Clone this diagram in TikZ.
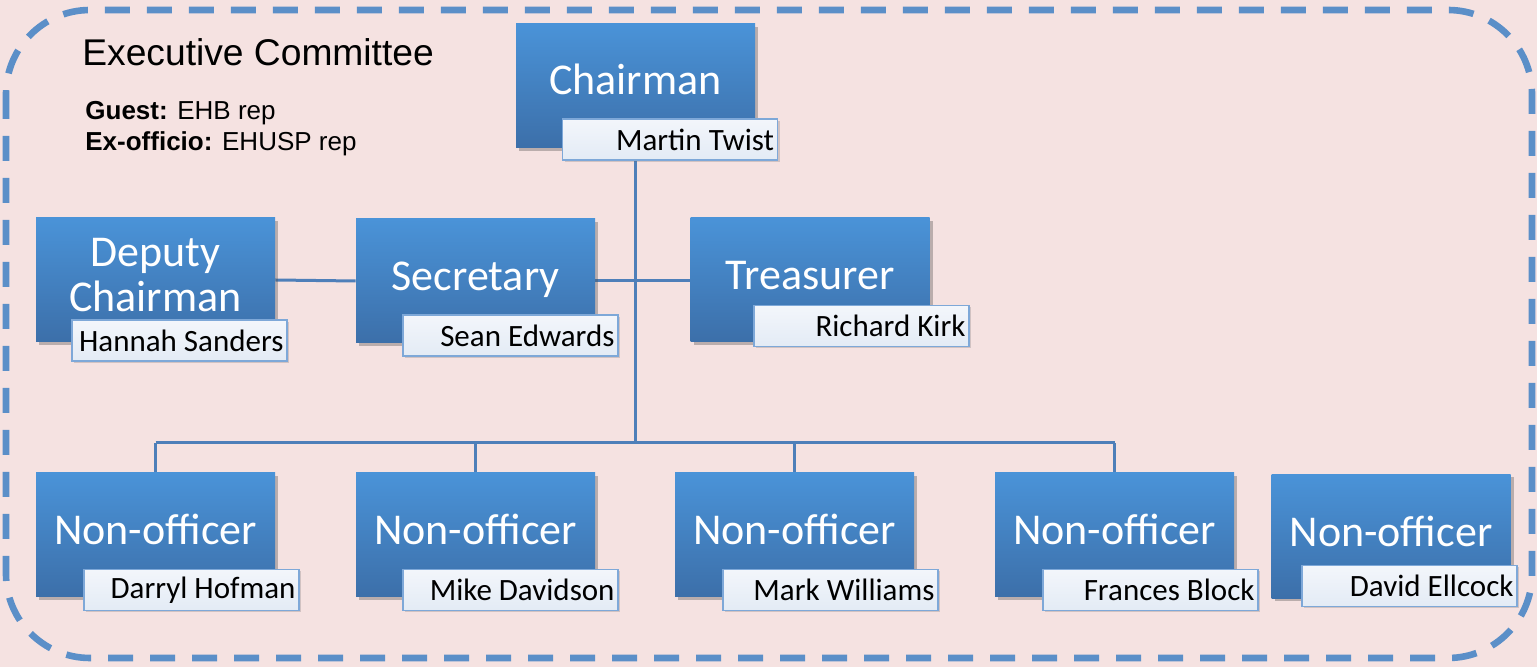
\documentclass[tikz,border=0pt]{standalone}
\usepackage{fontspec}
\setmainfont{Liberation Sans}
\newfontfamily\carlito{Carlito}
\usetikzlibrary{shadows,backgrounds}
\definecolor{pinkbg}{HTML}{F5E2E1}
\definecolor{dashblue}{HTML}{5B8FC8}
\definecolor{boxtop}{HTML}{4A93D8}
\definecolor{boxbot}{HTML}{3C6FA9}
\definecolor{lblborder}{HTML}{7EA8D8}
\definecolor{lbltop}{HTML}{F3F6FB}
\definecolor{lblbot}{HTML}{E3EBF5}
\definecolor{linkblue}{HTML}{4E7FB9}
\newcommand{\nmtext}[1]{\makebox[104pt][r]{#1}}
\tikzset{
  rolebox/.style={rectangle, minimum width=119.5pt, minimum height=62pt, inner sep=0pt,
    top color=boxtop, bottom color=boxbot, draw=none,
    drop shadow={shadow xshift=1.5pt, shadow yshift=-1.5pt, opacity=0.35, fill=black!70}},
  roletitle/.style={anchor=base, text=white, font=\carlito\fontsize{22}{22.5}\selectfont, align=center, inner sep=0pt},
  namebox/.style={rectangle, minimum width=107.5pt, minimum height=20.5pt, inner xsep=0pt, inner ysep=0pt,
    top color=lbltop, bottom color=lblbot,
    draw=lblborder, line width=0.8pt, text=black, font=\carlito\fontsize{15.5}{16}\selectfont,
    drop shadow={shadow xshift=1pt, shadow yshift=-1pt, opacity=0.25, fill=black!60}},
  link/.style={draw=linkblue, line width=1.5pt},
}
\begin{document}
\begin{tikzpicture}[x=0.5pt,y=-0.5pt]
\useasboundingbox (0,0) rectangle (1537,667);
% boxes
\node[rolebox] (chair) at (635.5,86) {};
\node[roletitle] (chairT) at ([yshift=-4.5pt]chair.center) {Chairman};
\node[namebox] (chairN) at (670,139.5) {\nmtext{Martin Twist}};

\node[rolebox] (dep) at (155.5,280) {};
\node[roletitle] (depT) at ([yshift=-16pt]dep.center) {Deputy\\Chairman};
\node[namebox] (depN) at (179.5,340.5) {\nmtext{Hannah Sanders}};

\node[rolebox] (sec) at (475.5,281) {};
\node[roletitle] (secT) at ([yshift=-5pt]sec.center) {Secretary};
\node[namebox] (secN) at (510.5,335.5) {\nmtext{Sean Edwards}};

\node[rolebox] (tre) at (810,280) {};
\node[roletitle] (treT) at ([yshift=-5pt]tre.center) {Treasurer};
\node[namebox] (treN) at (861.5,326) {\nmtext{Richard Kirk}};

\node[rolebox] (n1) at (155.5,535) {};
\node[roletitle] (n1T) at ([yshift=-5pt]n1.center) {Non-officer};
\node[namebox] (n1N) at (191.5,590) {\nmtext{Darryl Hofman}};

\node[rolebox] (n2) at (475.5,535) {};
\node[roletitle] (n2T) at ([yshift=-5pt]n2.center) {Non-officer};
\node[namebox] (n2N) at (510.5,590) {\nmtext{Mike Davidson}};

\node[rolebox] (n3) at (794.5,535) {};
\node[roletitle] (n3T) at ([yshift=-5pt]n3.center) {Non-officer};
\node[namebox] (n3N) at (830.5,590) {\nmtext{Mark Williams}};

\node[rolebox] (n4) at (1114.5,535) {};
\node[roletitle] (n4T) at ([yshift=-5pt]n4.center) {Non-officer};
\node[namebox] (n4N) at (1150.5,590) {\nmtext{Frances Block}};

\node[rolebox] (n5) at (1391,536.5) {};
\node[roletitle] (n5T) at ([yshift=-5pt]n5.center) {Non-officer};
\node[namebox] (n5N) at (1409.5,586) {\nmtext{David Ellcock}};

% header texts
\node[anchor=base west, inner sep=0pt, font=\fontsize{18.6}{20}\selectfont] (title) at (82,66) {Executive Committee};
\node[anchor=base west, inner sep=0pt, font=\fontsize{13}{15.5}\selectfont] (guest) at (85,120)
  {\textbf{Guest:} EHB rep};
\node[anchor=base west, inner sep=0pt, font=\fontsize{13}{15.5}\selectfont] (exoff) at (85,151)
  {\textbf{Ex-officio:} EHUSP rep};

\coordinate (bus) at (635.5,443);
\begin{scope}[on background layer]
  \fill[pinkbg] (0,0) rectangle (1537,667);
  \draw[dashblue, line width=3.3pt, dash pattern=on 12.5pt off 8.5pt, rounded corners=42pt]
    (6,10) rectangle (1532,658);
  \draw[link] (chair.south) -- (bus);
  \draw[link] (dep.east) -- (sec.west);
  \draw[link] (sec.east) -- (sec.east -| tre.west);
  \draw[link] (n1.north |- bus) -- (n4.north |- bus);
  \draw[link] (n1.north) -- (n1.north |- bus);
  \draw[link] (n2.north) -- (n2.north |- bus);
  \draw[link] (n3.north) -- (n3.north |- bus);
  \draw[link] (n4.north) -- (n4.north |- bus);
\end{scope}
\end{tikzpicture}
\end{document}
